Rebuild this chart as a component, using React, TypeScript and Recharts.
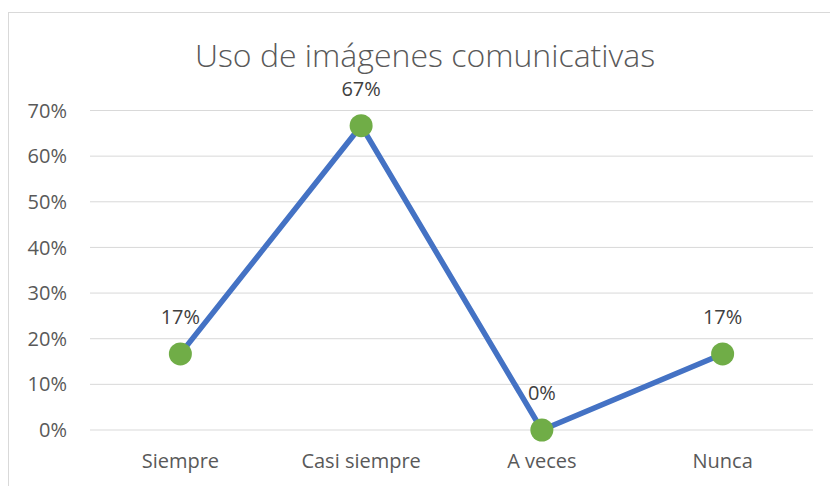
import React from "react";
import { LineChart, Line, XAxis, YAxis, CartesianGrid, LabelList } from "recharts";

const categories = ["Siempre", "Casi siempre", "A veces", "Nunca"];
const shares = [16.67, 66.67, 0, 16.67];
const yTicks = [0, 10, 20, 30, 40, 50, 60, 70];

const data = categories.map((name, i) => ({ name, value: shares[i] }));

const FONT = "'Open Sans', 'Noto Sans', sans-serif";

export default function App() {
  return (
    <div
      style={{
        position: "fixed",
        top: 12,
        left: 8,
        width: 822,
        height: 474,
        borderTop: "1px solid #d9d9d9",
        borderLeft: "1px solid #d9d9d9",
        background: "#fff",
        fontFamily: FONT,
      }}
    >
      <div
        style={{
          position: "absolute",
          top: 26,
          left: 0,
          width: 832,
          textAlign: "center",
          fontSize: 32,
          fontWeight: 300,
          lineHeight: 1,
          color: "#595959",
          whiteSpace: "nowrap",
        }}
      >
        Uso de imágenes comunicativas
      </div>
      <LineChart
        width={821}
        height={473}
        data={data}
        margin={{ top: 97.5, right: 17, bottom: 26, left: 0 }}
        style={{ fontFamily: FONT }}
      >
        <CartesianGrid vertical={false} stroke="#d9d9d9" strokeWidth={1} />
        <XAxis
          dataKey="name"
          scale="band"
          height={30}
          axisLine={false}
          tickLine={false}
          tickSize={0}
          tickMargin={24}
          tick={{ fill: "#595959", fontSize: 20 }}
        />
        <YAxis
          width={81}
          domain={[0, 70]}
          ticks={yTicks}
          axisLine={false}
          tickLine={false}
          tickSize={0}
          tickMargin={23}
          tickFormatter={(v: number) => `${v}%`}
          tick={{ fill: "#595959", fontSize: 20 }}
        />
        <Line
          type="linear"
          dataKey="value"
          stroke="#4472C4"
          strokeWidth={5.5}
          isAnimationActive={false}
          dot={{ r: 11.5, fill: "#70AD47", stroke: "#70AD47", strokeWidth: 0 }}
          activeDot={false}
        >
          <LabelList
            dataKey="value"
            position="top"
            offset={30}
            fill="#404040"
            fontSize={20}
            formatter={(v: number) => `${Math.round(v)}%`}
          />
        </Line>
      </LineChart>
    </div>
  );
}
